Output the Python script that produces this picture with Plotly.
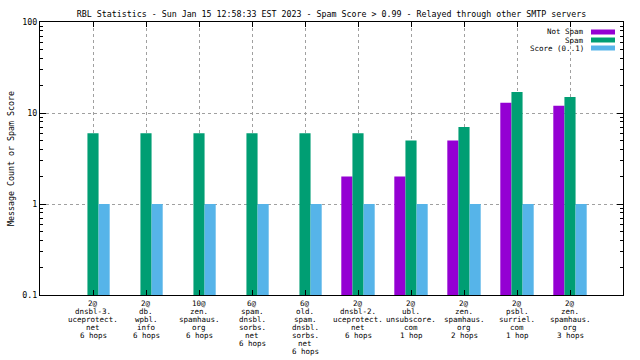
import plotly.graph_objects as go

categories = [
    "2@\ndnsbl-3.\nuceprotect.\nnet\n6 hops",
    "2@\ndb.\nwpbl.\ninfo\n6 hops",
    "10@\nzen.\nspamhaus.\norg\n6 hops",
    "6@\nspam.\ndnsbl.\nsorbs.\nnet\n6 hops",
    "6@\nold.\nspam.\ndnsbl.\nsorbs.\nnet\n6 hops",
    "2@\ndnsbl-2.\nuceprotect.\nnet\n6 hops",
    "2@\nubl.\nunsubscore.\ncom\n1 hop",
    "2@\nzen.\nspamhaus.\norg\n2 hops",
    "2@\npsbl.\nsurriel.\ncom\n1 hop",
    "2@\nzen.\nspamhaus.\norg\n3 hops",
]
not_spam = [None, None, None, None, None, 2, 2, 5, 13, 12]
spam = [6, 6, 6, 6, 6, 6, 5, 7, 17, 15]
score = [1, 1, 1, 1, 1, 1, 1, 1, 1, 1]
series_names = ["Not Spam", "Spam", "Score (0..1)"]
series_colors = ["#9400D3", "#009E73", "#56B4E9"]
y_tickvals = [0.1, 1, 10, 100]
y_ticktext = ["0.1", "1", "10", "100"]
y_minor = [0.2, 0.3, 0.4, 0.5, 0.6, 0.7, 0.8, 0.9, 2, 3, 4, 5, 6, 7, 8, 9, 20, 30, 40, 50, 60, 70, 80, 90]
title_text = "RBL Statistics - Sun Jan 15 12:58:33 EST 2023 - Spam Score > 0.99 - Relayed through other SMTP servers"
y_title = "Message Count or Spam Score"

FONT = "DejaVu Sans Mono"
FS = 8.3
FS_STACK = 7.5
LINE = 8.0

L, R, T, B = 40, 623, 22, 295
PW, PH = R - L, B - T

fig = go.Figure()
for name, vals, col in zip(series_names, [not_spam, spam, score], series_colors):
    fig.add_trace(go.Bar(x=categories, y=vals, name=name, marker=dict(color=col, line=dict(width=0)),
                         showlegend=False, hoverinfo="skip"))

fig.update_layout(
    width=640, height=360,
    margin=dict(l=L, r=640 - R, t=T, b=360 - B, autoexpand=False),
    paper_bgcolor="white", plot_bgcolor="white",
    barmode="group", bargap=0.37, bargroupgap=0,
    hovermode=False,
    font=dict(family=FONT, size=FS, color="black"),
    title=dict(text=title_text, x=0.5, xref="paper", y=1 - 14 / 360, yanchor="middle",
               font=dict(family=FONT, size=FS, color="black")),
)
fig.update_xaxes(
    type="category", range=[-1, 10], showticklabels=False, automargin=False,
    showgrid=True, gridcolor="#a0a0a0", griddash="3px,3px", gridwidth=1,
    showline=True, linecolor="black", linewidth=1, mirror="allticks",
    ticks="inside", ticklen=5, tickcolor="black", zeroline=False,
)
fig.update_yaxes(
    type="log", range=[-1, 2], automargin=False,
    tickmode="array", tickvals=y_tickvals, ticktext=y_ticktext,
    ticks="inside", ticklen=6, tickcolor="black",
    showgrid=True, gridcolor="#a0a0a0", griddash="3px,3px", gridwidth=1,
    showline=True, linecolor="black", linewidth=1, mirror="allticks",
    minor=dict(tickmode="array", tickvals=y_minor, ticks="inside", ticklen=3, tickcolor="black", showgrid=False),
    title=dict(text=y_title, standoff=6, font=dict(family=FONT, size=FS)),
    tickfont=dict(family=FONT, size=FS), zeroline=False,
)

# multi-line category labels, tight line spacing like the original
for i, cat in enumerate(categories):
    for j, line in enumerate(cat.split("\n")):
        fig.add_annotation(x=i, y=0, xref="x", yref="paper", text=line, showarrow=False,
                           xanchor="center", yanchor="middle", yshift=-(8.5 + j * LINE),
                           borderpad=0,
                           font=dict(family=FONT, size=FS_STACK, color="black"))

# gnuplot-style key: right-aligned text then colour sample
for k, (name, col) in enumerate(zip(series_names, series_colors)):
    ypix = 32 + k * LINE
    yp = 1 - (ypix - T) / PH
    fig.add_annotation(x=(585 - L) / PW, y=yp, xref="paper", yref="paper", text=name, showarrow=False,
                       xanchor="right", yanchor="middle", borderpad=0,
                       font=dict(family=FONT, size=FS_STACK, color="black"))
    fig.add_shape(type="rect", xref="paper", yref="paper",
                  x0=(591 - L) / PW, x1=(615 - L) / PW,
                  y0=yp - 2.5 / PH, y1=yp + 2.5 / PH, fillcolor=col, line=dict(width=0))

fig.write_html("out.html", config={"displayModeBar": False, "staticPlot": True},
               post_script="document.body.style.margin='0';document.body.style.overflow='hidden';")
